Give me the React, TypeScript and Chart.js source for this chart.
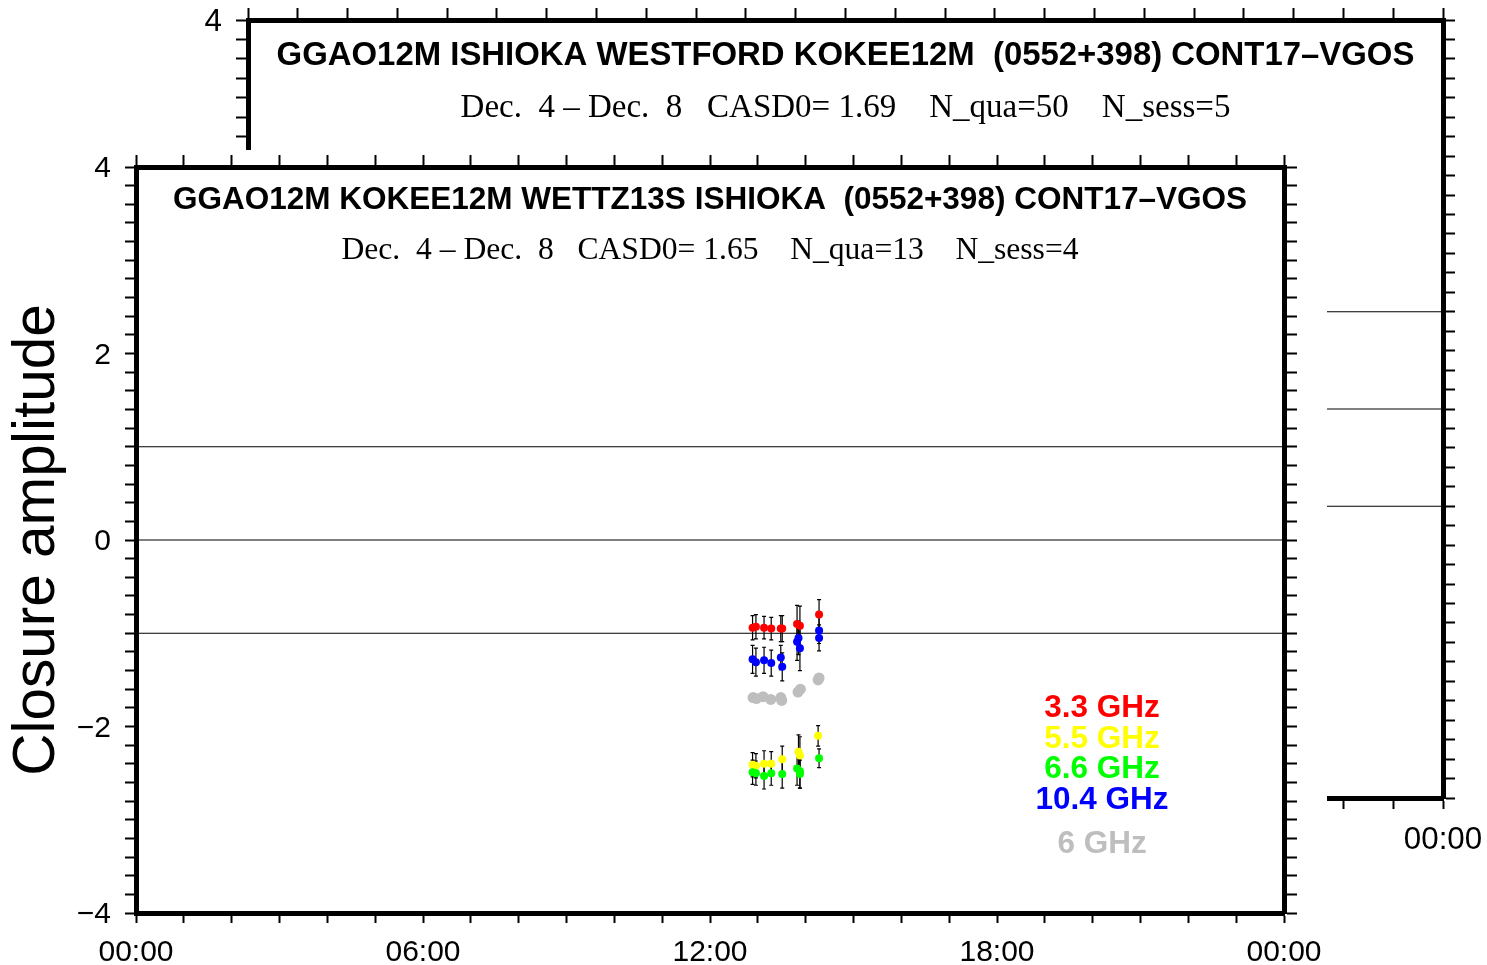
import React, { useEffect, useRef } from 'react';
import { Chart, registerables } from 'chart.js';

Chart.register(...registerables);

const SANS = 'Liberation Sans';
const SERIF = 'Liberation Serif';

// ---------- data (front panel) ----------
const hourTickLabels = ['00:00', '06:00', '12:00', '18:00', '00:00'];
const refLines = [1, 0, -1];

const redT = [12.89, 12.96, 13.13, 13.28, 13.48, 13.51, 13.82, 13.88, 14.28];
const redV = [-0.94, -0.93, -0.94, -0.95, -0.95, -0.95, -0.9, -0.92, -0.8];
const redE = [0.13, 0.13, 0.12, 0.12, 0.14, 0.14, 0.2, 0.21, 0.16];

const blueT = [12.89, 12.96, 13.13, 13.28, 13.48, 13.51, 13.82, 13.85, 13.88, 14.28, 14.28];
const blueV = [-1.28, -1.31, -1.29, -1.32, -1.26, -1.36, -1.09, -1.05, -1.16, -0.97, -1.05];
const blueE = [0.15, 0.15, 0.14, 0.14, 0.13, 0.15, 0.2, 0.18, 0.24, 0.14, 0.14];

const grayT = [12.9, 12.97, 13.11, 13.27, 13.48, 13.5, 13.84, 13.89, 14.26, 14.28];
const grayV = [-1.69, -1.7, -1.68, -1.71, -1.69, -1.72, -1.63, -1.6, -1.5, -1.48];

const yellowT = [12.89, 12.96, 13.13, 13.28, 13.51, 13.85, 13.88, 14.26];
const yellowV = [-2.41, -2.42, -2.4, -2.4, -2.35, -2.27, -2.31, -2.1];
const yellowE = [0.13, 0.13, 0.14, 0.13, 0.14, 0.18, 0.2, 0.11];

const greenT = [12.89, 12.96, 13.13, 13.28, 13.51, 13.82, 13.88, 13.88, 14.28];
const greenV = [-2.49, -2.5, -2.53, -2.5, -2.51, -2.45, -2.48, -2.51, -2.34];
const greenE = [0.13, 0.13, 0.14, 0.13, 0.15, 0.18, 0.18, 0.15, 0.1];

const legendLabels = ['3.3 GHz', '5.5 GHz', '6.6 GHz', '10.4 GHz', '6 GHz'];
const legendColors = ['#ff0000', '#ffff00', '#00ff00', '#0000ff', '#bebebe'];

const frontTitle = 'GGAO12M KOKEE12M WETTZ13S ISHIOKA  (0552+398) CONT17\u2013VGOS';
const frontSub = 'Dec.  4 \u2013 Dec.  8   CASD0= 1.65    N_qua=13    N_sess=4';
const backTitle = 'GGAO12M ISHIOKA WESTFORD KOKEE12M  (0552+398) CONT17\u2013VGOS';
const backSub = 'Dec.  4 \u2013 Dec.  8   CASD0= 1.69    N_qua=50    N_sess=5';

// ---------- helpers ----------
const pts = (t: number[], v: number[]) => t.map((x, i) => ({ x, y: v[i] }));

const fmtX = (v: number) => {
  const r = Math.round(v);
  if (Math.abs(v - r) < 1e-6 && r % 6 === 0) return hourTickLabels[r / 6];
  return '';
};
const fmtY = (v: number) => {
  const r = Math.round(v);
  if (Math.abs(v - r) < 1e-6 && r % 2 === 0) return r < 0 ? '\u2212' + Math.abs(r) : String(r);
  return '';
};

const errorBars = {
  id: 'errorBars',
  beforeDatasetsDraw(chart: any) {
    const ctx = chart.ctx;
    const ys = chart.scales.y;
    chart.data.datasets.forEach((ds: any, i: number) => {
      if (!ds.errs) return;
      const meta = chart.getDatasetMeta(i);
      ctx.save();
      ctx.strokeStyle = '#000';
      ctx.lineWidth = 1.2;
      meta.data.forEach((p: any, j: number) => {
        const v = ds.data[j].y;
        const e = ds.errs[j];
        const y1 = ys.getPixelForValue(v + e);
        const y2 = ys.getPixelForValue(v - e);
        ctx.beginPath();
        ctx.moveTo(p.x, y1);
        ctx.lineTo(p.x, y2);
        ctx.moveTo(p.x - 2, y1);
        ctx.lineTo(p.x + 2, y1);
        ctx.moveTo(p.x - 2, y2);
        ctx.lineTo(p.x + 2, y2);
        ctx.stroke();
      });
      ctx.restore();
    });
  },
};

const panelText = {
  id: 'panelText',
  afterDraw(chart: any, _args: any, opts: any) {
    const { ctx, chartArea } = chart;
    (opts.items || []).forEach((it: any) => {
      ctx.save();
      ctx.font = it.font;
      ctx.fillStyle = it.color;
      ctx.textAlign = 'center';
      ctx.textBaseline = 'alphabetic';
      const x = chartArea.left + it.fx * (chartArea.right - chartArea.left);
      ctx.fillText(it.text, x, it.y);
      ctx.restore();
    });
  },
};

const zeroPad = (s: any) => {
  s.paddingTop = 0;
  s.paddingBottom = 0;
  s.paddingLeft = 0;
  s.paddingRight = 0;
};

function xAxis(position: string, labels: boolean, size: number, pad: number, tl: number, fs: number) {
  return {
    type: 'linear',
    position,
    min: 0,
    max: 24,
    ticks: {
      stepSize: 1,
      autoSkip: false,
      maxRotation: 0,
      minRotation: 0,
      display: labels,
      padding: pad,
      color: '#000',
      font: { family: SANS, size: fs },
      callback: fmtX,
    },
    grid: { drawOnChartArea: false, drawTicks: true, tickLength: tl, tickColor: '#000', tickWidth: 2 },
    border: { display: true, color: '#000', width: 5 },
    afterFit: (s: any) => {
      s.height = size;
      zeroPad(s);
    },
  };
}

function yAxis(position: string, labels: boolean, size: number, pad: number, tl: number, fs: number, title?: any) {
  return {
    type: 'linear',
    position,
    min: -4,
    max: 4,
    title: title || { display: false },
    ticks: {
      stepSize: 0.2,
      autoSkip: false,
      display: labels,
      padding: pad,
      labelOffset: 2,
      color: '#000',
      font: { family: SANS, size: fs },
      callback: fmtY,
    },
    grid: { drawOnChartArea: false, drawTicks: true, tickLength: tl, tickColor: '#000', tickWidth: 2 },
    border: { display: true, color: '#000', width: 5 },
    afterFit: (s: any) => {
      s.width = size;
      zeroPad(s);
    },
  };
}

const lineDatasets = () =>
  refLines.map((v) => ({
    data: [
      { x: 0, y: v },
      { x: 24, y: v },
    ],
    showLine: true,
    borderColor: '#000',
    borderWidth: 1,
    pointRadius: 0,
    order: 10,
  }));

const dotSet = (t: number[], v: number[], color: string, r: number, order: number, errs?: number[]) => ({
  data: pts(t, v),
  backgroundColor: color,
  borderWidth: 0,
  pointRadius: r,
  pointHoverRadius: r,
  order,
  errs,
});

export default function App() {
  const backRef = useRef<HTMLCanvasElement>(null);
  const frontRef = useRef<HTMLCanvasElement>(null);

  useEffect(() => {
    const back = new Chart(backRef.current as HTMLCanvasElement, {
      type: 'scatter',
      data: { datasets: lineDatasets() as any },
      plugins: [panelText],
      options: {
        responsive: false,
        animation: false,
        devicePixelRatio: 1,
        layout: { padding: 0, autoPadding: false },
        scales: {
          x: xAxis('bottom', true, 167, 13, 11, 31.3),
          x2: xAxis('top', false, 20, 0, 12, 31.3),
          y: yAxis('left', true, 248, 14, 12, 31.3),
          y2: yAxis('right', false, 44, 0, 12, 31.3),
        } as any,
        plugins: {
          legend: { display: false },
          tooltip: { enabled: false },
          panelText: {
            items: [
              { text: backTitle, fx: 0.5, y: 65, font: `bold 32.9px "${SANS}"`, color: '#000' },
              { text: backSub, fx: 0.5, y: 117, font: `33px "${SERIF}"`, color: '#000' },
            ],
          },
        } as any,
      },
    });

    const front = new Chart(frontRef.current as HTMLCanvasElement, {
      type: 'scatter',
      data: {
        datasets: [
          ...lineDatasets(),
          dotSet(grayT, grayV, '#bebebe', 5.5, 6),
          dotSet(redT, redV, '#ff0000', 4, 2, redE),
          dotSet(blueT, blueV, '#0000ff', 4, 3, blueE),
          dotSet(yellowT, yellowV, '#ffff00', 4, 2, yellowE),
          dotSet(greenT, greenV, '#00ff00', 4, 1, greenE),
        ] as any,
      },
      plugins: [errorBars, panelText],
      options: {
        responsive: false,
        animation: false,
        devicePixelRatio: 1,
        layout: { padding: 0, autoPadding: false },
        scales: {
          x: xAxis('bottom', true, 52, 12, 10, 30),
          x2: xAxis('top', false, 17, 0, 12, 30),
          y: yAxis('left', true, 136, 14, 11, 30, {
            display: true,
            text: 'Closure amplitude',
            color: '#000',
            font: { family: SANS, size: 58.5 },
            padding: { top: 3, bottom: 0 },
          }),
          y2: yAxis('right', false, 43, 0, 13, 30),
        } as any,
        plugins: {
          legend: { display: false },
          tooltip: { enabled: false },
          panelText: {
            items: [
              { text: frontTitle, fx: 0.5, y: 59, font: `bold 31.5px "${SANS}"`, color: '#000' },
              { text: frontSub, fx: 0.5, y: 109, font: `31.6px "${SERIF}"`, color: '#000' },
              ...legendLabels.map((t, i) => ({
                text: t,
                fx: 0.8415,
                y: [567, 598, 628, 659, 703][i],
                font: `bold 31.5px "${SANS}"`,
                color: legendColors[i],
              })),
            ],
          },
        } as any,
      },
    });

    return () => {
      back.destroy();
      front.destroy();
    };
  }, []);

  return (
    <div style={{ position: 'absolute', left: 0, top: 0, width: 1487, height: 965, background: '#fff' }}>
      <canvas
        ref={backRef}
        width={1487}
        height={965}
        style={{ position: 'absolute', left: 0, top: 0, width: 1487, height: 965 }}
      />
      <canvas
        ref={frontRef}
        width={1327}
        height={815}
        style={{ position: 'absolute', left: 0, top: 150, width: 1327, height: 815, background: '#fff' }}
      />
    </div>
  );
}
